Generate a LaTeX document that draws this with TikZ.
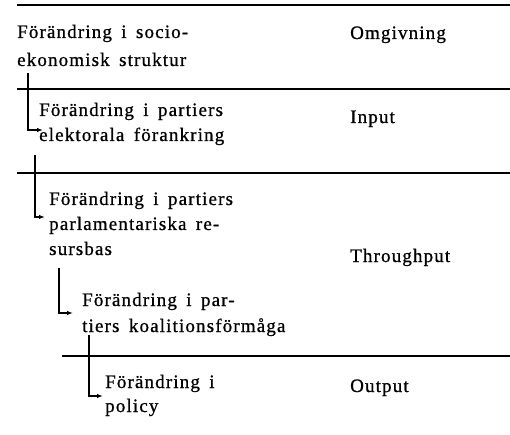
\documentclass[tikz,border=0pt]{standalone}
\usepackage{fontspec}
\setmainfont{Liberation Serif}[LetterSpace=6,WordSpace=1.6,FakeBold=0.8]
\usetikzlibrary{arrows.meta}
\newcommand\blocklines[2]{\vtop{\baselineskip=#1\relax #2}}
\begin{document}
\begin{tikzpicture}[x=1bp,y=-1bp,
  lbl/.style={anchor=base west,inner sep=0pt,font=\fontsize{19bp}{25bp}\selectfont},
  rule/.style={line width=1.3bp},
  conn/.style={line width=1.4bp,-{Latex[length=6bp,width=4.5bp]}}]
\useasboundingbox (0,0) rectangle (510,435);
% horizontal rules
\draw[rule] (17,5) -- (510,5);
\draw[rule] (17,89) -- (510,89);
\draw[rule] (17,173) -- (510,173);
\draw[rule] (62,356) -- (510,356);
% left column
\node[lbl] (a) at (17,38) {\blocklines{28bp}{\hbox{Förändring i socio-}\hbox{ekonomisk struktur}}};
\node[lbl] (b) at (39,116) {\blocklines{25bp}{\hbox{Förändring i partiers}\hbox{elektorala förankring}}};
\node[lbl] (c) at (49,205) {\blocklines{25bp}{\hbox{Förändring i partiers}\hbox{parlamentariska re-}\hbox{sursbas}}};
\node[lbl] (d) at (82,306) {\blocklines{26bp}{\hbox{Förändring i par-}\hbox{tiers koalitionsförmåga}}};
\node[lbl] (e) at (105,388) {\blocklines{24bp}{\hbox{Förändring i}\hbox{policy}}};
% right column
\node[lbl] (omg) at (350,39) {Omgivning};
\node[lbl] (inp) at (350,123) {Input};
\node[lbl] (thr) at (350,262) {Throughput};
\node[lbl] (out) at (350,392) {Output};
% connectors
\draw[conn] ([shift={(11,35)}]a.base west) |- ([shift={(4,14)}]b.base west);
\draw[conn] ([shift={(-4,39)}]b.base west) |- ([shift={(-4,12)}]c.base west);
\draw[conn] ([shift={(10,63)}]c.base west) |- ([shift={(-9,7)}]d.base west);
\draw[conn] ([shift={(7,29)}]d.base west) |- ([shift={(-2,8)}]e.base west);
\end{tikzpicture}
\end{document}
